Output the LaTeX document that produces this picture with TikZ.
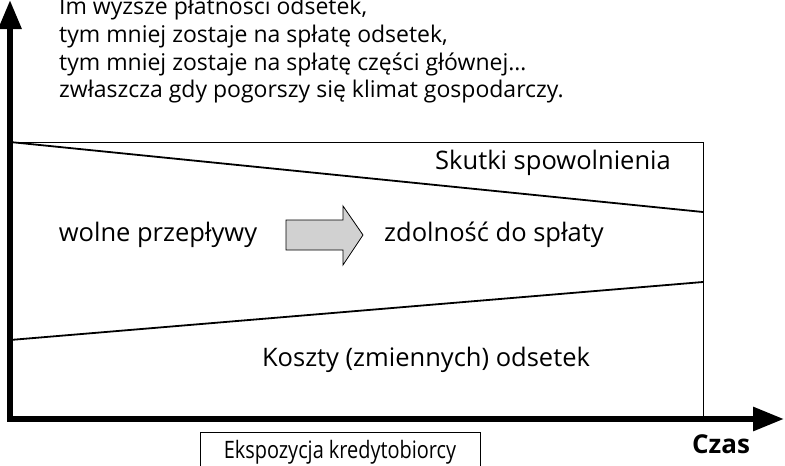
\documentclass[tikz,border=0pt]{standalone}
\usepackage{fontspec}
\setmainfont{Open Sans}
\usetikzlibrary{arrows.meta}
\tikzstyle{every node}+=[inner sep=0pt]
\tikzstyle{axis} = [line width=6pt, line join=miter]
\tikzstyle{frame} = [draw, line width=0.9pt]
\tikzstyle{border} = [draw, line width=1.8pt]
\tikzstyle{remark} = [anchor=base west, font=\fontsize{23}{28}\selectfont]
\tikzstyle{flowtext} = [anchor=base, font=\fontsize{25.5}{30}\selectfont]
\tikzstyle{bigarrow} = [draw, fill=black!18, line width=0.8pt]

\begin{document}
\begin{tikzpicture}[x=1pt, y=-1pt]
            \clip (0,0) rectangle (785,466);
            % Frame and borders
            \coordinate (tl) at (10,142);
            \coordinate (tr) at (703,142);
            \coordinate (br) at (703,419);
            \coordinate (upr) at (703,212);
            \coordinate (lol) at (10,340);
            \coordinate (lor) at (703,282);
            \draw[frame] (tl) -- (tr) -- (br);
            \draw[border] (tl) -- (upr);
            \draw[border] (lol) -- (lor);
            % Axes
            \coordinate (origin) at (10,419);
            \coordinate (ytop) at (10,0);
            \coordinate (xend) at (784,419);
            \draw[axis, {Triangle[length=29pt,width=22pt]}-{Triangle[length=31pt,width=23pt]}] (ytop) -- (origin) -- (xend);
            % Place texts
            \node [remark] (line1) at (59,14) {Im wyższe płatności odsetek,};
            \node [remark] (line2) at (59,42) {tym mniej zostaje na spłatę odsetek,};
            \node [remark] (line3) at (59,70) {tym mniej zostaje na spłatę części głównej…};
            \node [remark] (line4) at (59,97) {zwłaszcza gdy pogorszy się klimat gospodarczy.};
            \node [flowtext] (effects) at (553,169) {Skutki spowolnienia};
            \node [flowtext] (flows) at (158,241) {wolne przepływy};
            \node [flowtext] (capacity) at (494,241) {zdolność do spłaty};
            \node [flowtext] (costs) at (426,366) {Koszty (zmiennych) odsetek};
            \node [anchor=base, font=\bfseries\fontsize{26}{30}\selectfont] (time) at (721,453) {Czas};
            \node [frame, anchor=north, minimum width=280pt, minimum height=40pt, font=\fontsize{24}{28}\selectfont] (exposure) at (340,432) {\scalebox{0.83}[1]{Ekspozycja kredytobiorcy}};
            % Draw arrow
            \draw [bigarrow] (286,220) -- (343,220) -- (343,206) -- (363,235) -- (343,265) -- (343,250) -- (286,250) -- cycle;
          \end{tikzpicture}
\end{document}
